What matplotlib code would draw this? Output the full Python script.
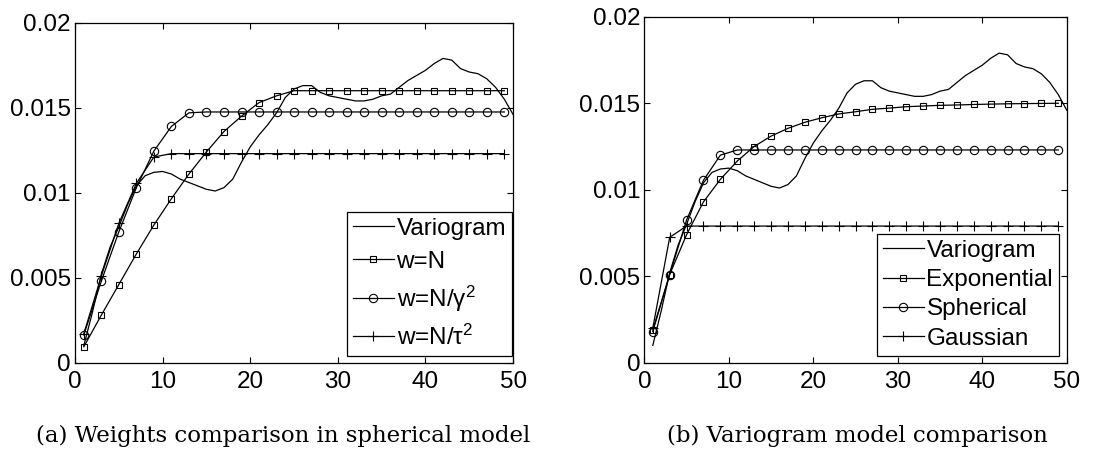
import matplotlib
matplotlib.use('Agg')
import matplotlib.pyplot as plt
import numpy as np

plt.rcParams['font.family'] = ['Liberation Sans', 'DejaVu Sans']
plt.rcParams['mathtext.fontset'] = 'custom'
plt.rcParams['mathtext.rm'] = 'Liberation Sans'
plt.rcParams['mathtext.it'] = 'Liberation Sans:italic'

# experimental variogram at lags 1..50
lagsFine = list(range(1, 51))
variogram = [0.0010, 0.0030, 0.0052, 0.0068, 0.0080, 0.0093, 0.0104, 0.0110, 0.0112, 0.01125,
             0.0111, 0.0108, 0.0106, 0.0104, 0.0102, 0.0101, 0.0103, 0.0108, 0.0118, 0.0127,
             0.0134, 0.0140, 0.0147, 0.0156, 0.0161, 0.0163, 0.0163, 0.0159, 0.0157, 0.0156,
             0.0155, 0.0154, 0.0154, 0.0155, 0.0157, 0.0158, 0.0162, 0.0166, 0.0169, 0.0172,
             0.0176, 0.0179, 0.0178, 0.0173, 0.0171, 0.0170, 0.0167, 0.0162, 0.0155, 0.0146]

# fitted models at odd lags 1..49
lags = list(range(1, 50, 2))

# (a) weights comparison, spherical model
wN = [0.00094, 0.0028, 0.0046, 0.0064, 0.0081, 0.00965, 0.0111, 0.0124, 0.0136, 0.0145,
      0.0153, 0.0157, 0.0160, 0.0160, 0.0160, 0.0160, 0.0160, 0.0160, 0.0160, 0.0160,
      0.0160, 0.0160, 0.0160, 0.0160, 0.0160]
wGamma = [0.00163, 0.0048, 0.0077, 0.0103, 0.01245, 0.0139, 0.0147, 0.01475, 0.01475, 0.01475,
          0.01475, 0.01475, 0.01475, 0.01475, 0.01475, 0.01475, 0.01475, 0.01475, 0.01475, 0.01475,
          0.01475, 0.01475, 0.01475, 0.01475, 0.01475]
wTau = [0.0017, 0.0051, 0.0082, 0.01055, 0.0121, 0.0123, 0.0123, 0.0123, 0.0123, 0.0123,
        0.0123, 0.0123, 0.0123, 0.0123, 0.0123, 0.0123, 0.0123, 0.0123, 0.0123, 0.0123,
        0.0123, 0.0123, 0.0123, 0.0123, 0.0123]

# (b) model comparison
exponential = [0.0019, 0.0051, 0.0074, 0.0093, 0.0106, 0.01166, 0.0125, 0.0131, 0.01355, 0.0139,
               0.01416, 0.01438, 0.01451, 0.01465, 0.01472, 0.0148, 0.01484, 0.01488, 0.0149, 0.01493,
               0.01495, 0.01497, 0.01498, 0.01499, 0.0150]
spherical = [0.0018, 0.0051, 0.00825, 0.01055, 0.0120, 0.0123, 0.0123, 0.0123, 0.0123, 0.0123,
             0.0123, 0.0123, 0.0123, 0.0123, 0.0123, 0.0123, 0.0123, 0.0123, 0.0123, 0.0123,
             0.0123, 0.0123, 0.0123, 0.0123, 0.0123]
gaussian = [0.0020, 0.00725, 0.0079, 0.0079, 0.0079, 0.0079, 0.0079, 0.0079, 0.0079, 0.0079,
            0.0079, 0.0079, 0.0079, 0.0079, 0.0079, 0.0079, 0.0079, 0.0079, 0.0079, 0.0079,
            0.0079, 0.0079, 0.0079, 0.0079, 0.0079]

xTicks = [0, 10, 20, 30, 40, 50]
yTicks = [0, 0.005, 0.01, 0.015, 0.02]
yTickLabels = ['0', '0.005', '0.01', '0.015', '0.02']

labelsA = ['Variogram', 'w=N', 'w=N/γ$^2$', 'w=N/τ$^2$']
labelsB = ['Variogram', 'Exponential', 'Spherical', 'Gaussian']
captionA = '(a) Weights comparison in spherical model'
captionB = '(b) Variogram model comparison'

fig = plt.figure(figsize=(11.02, 4.57), dpi=100)
axA = fig.add_axes([0.0681, 0.2063, 0.3975, 0.744])
axB = fig.add_axes([0.5847, 0.2063, 0.3833, 0.757])

lw = 0.9
mk = dict(markerfacecolor='none', markeredgecolor='k', markeredgewidth=0.8)


def styleAxes(ax):
    ax.set_xlim(0, 50)
    ax.set_ylim(0, 0.02)
    ax.set_xticks(xTicks)
    ax.set_yticks(yTicks)
    ax.set_yticklabels(yTickLabels)
    ax.tick_params(direction='in', top=True, right=True, length=4, width=0.8,
                   labelsize=17.5, colors='k')
    ax.tick_params(axis='x', pad=6)
    ax.tick_params(axis='y', pad=3)
    for s in ax.spines.values():
        s.set_linewidth(0.9)


def styleLegend(ax, labels, anchor, spacing):
    leg = ax.legend(labels, loc='lower right', bbox_to_anchor=anchor, fontsize=17.5,
                    fancybox=False, framealpha=1, edgecolor='k', handlelength=1.7,
                    handletextpad=0.1, labelspacing=spacing, borderpad=0.25, borderaxespad=0)
    leg.get_frame().set_linewidth(0.9)


axA.plot(lagsFine, variogram, 'k-', lw=lw)
axA.plot(lags, wN, 'k-', marker='s', markersize=4.5, lw=lw, **mk)
axA.plot(lags, wGamma, 'k-', marker='o', markersize=6, lw=lw, **mk)
axA.plot(lags, wTau, 'k-', marker='+', markersize=7, lw=lw, **mk)
styleAxes(axA)
styleLegend(axA, labelsA, (0.998, 0.02), 0.45)

axB.plot(lagsFine, variogram, 'k-', lw=lw)
axB.plot(lags, exponential, 'k-', marker='s', markersize=4.5, lw=lw, **mk)
axB.plot(lags, spherical, 'k-', marker='o', markersize=6, lw=lw, **mk)
axB.plot(lags, gaussian, 'k-', marker='+', markersize=7, lw=lw, **mk)
styleAxes(axB)
styleLegend(axB, labelsB, (0.982, 0.02), 0.3)

fig.text(0.257, 0.045, captionA, fontsize=16.5, family='DejaVu Serif', ha='center', va='center')
fig.text(0.778, 0.045, captionB, fontsize=16.5, family='DejaVu Serif', ha='center', va='center')

fig.savefig('out.png', dpi=100)
